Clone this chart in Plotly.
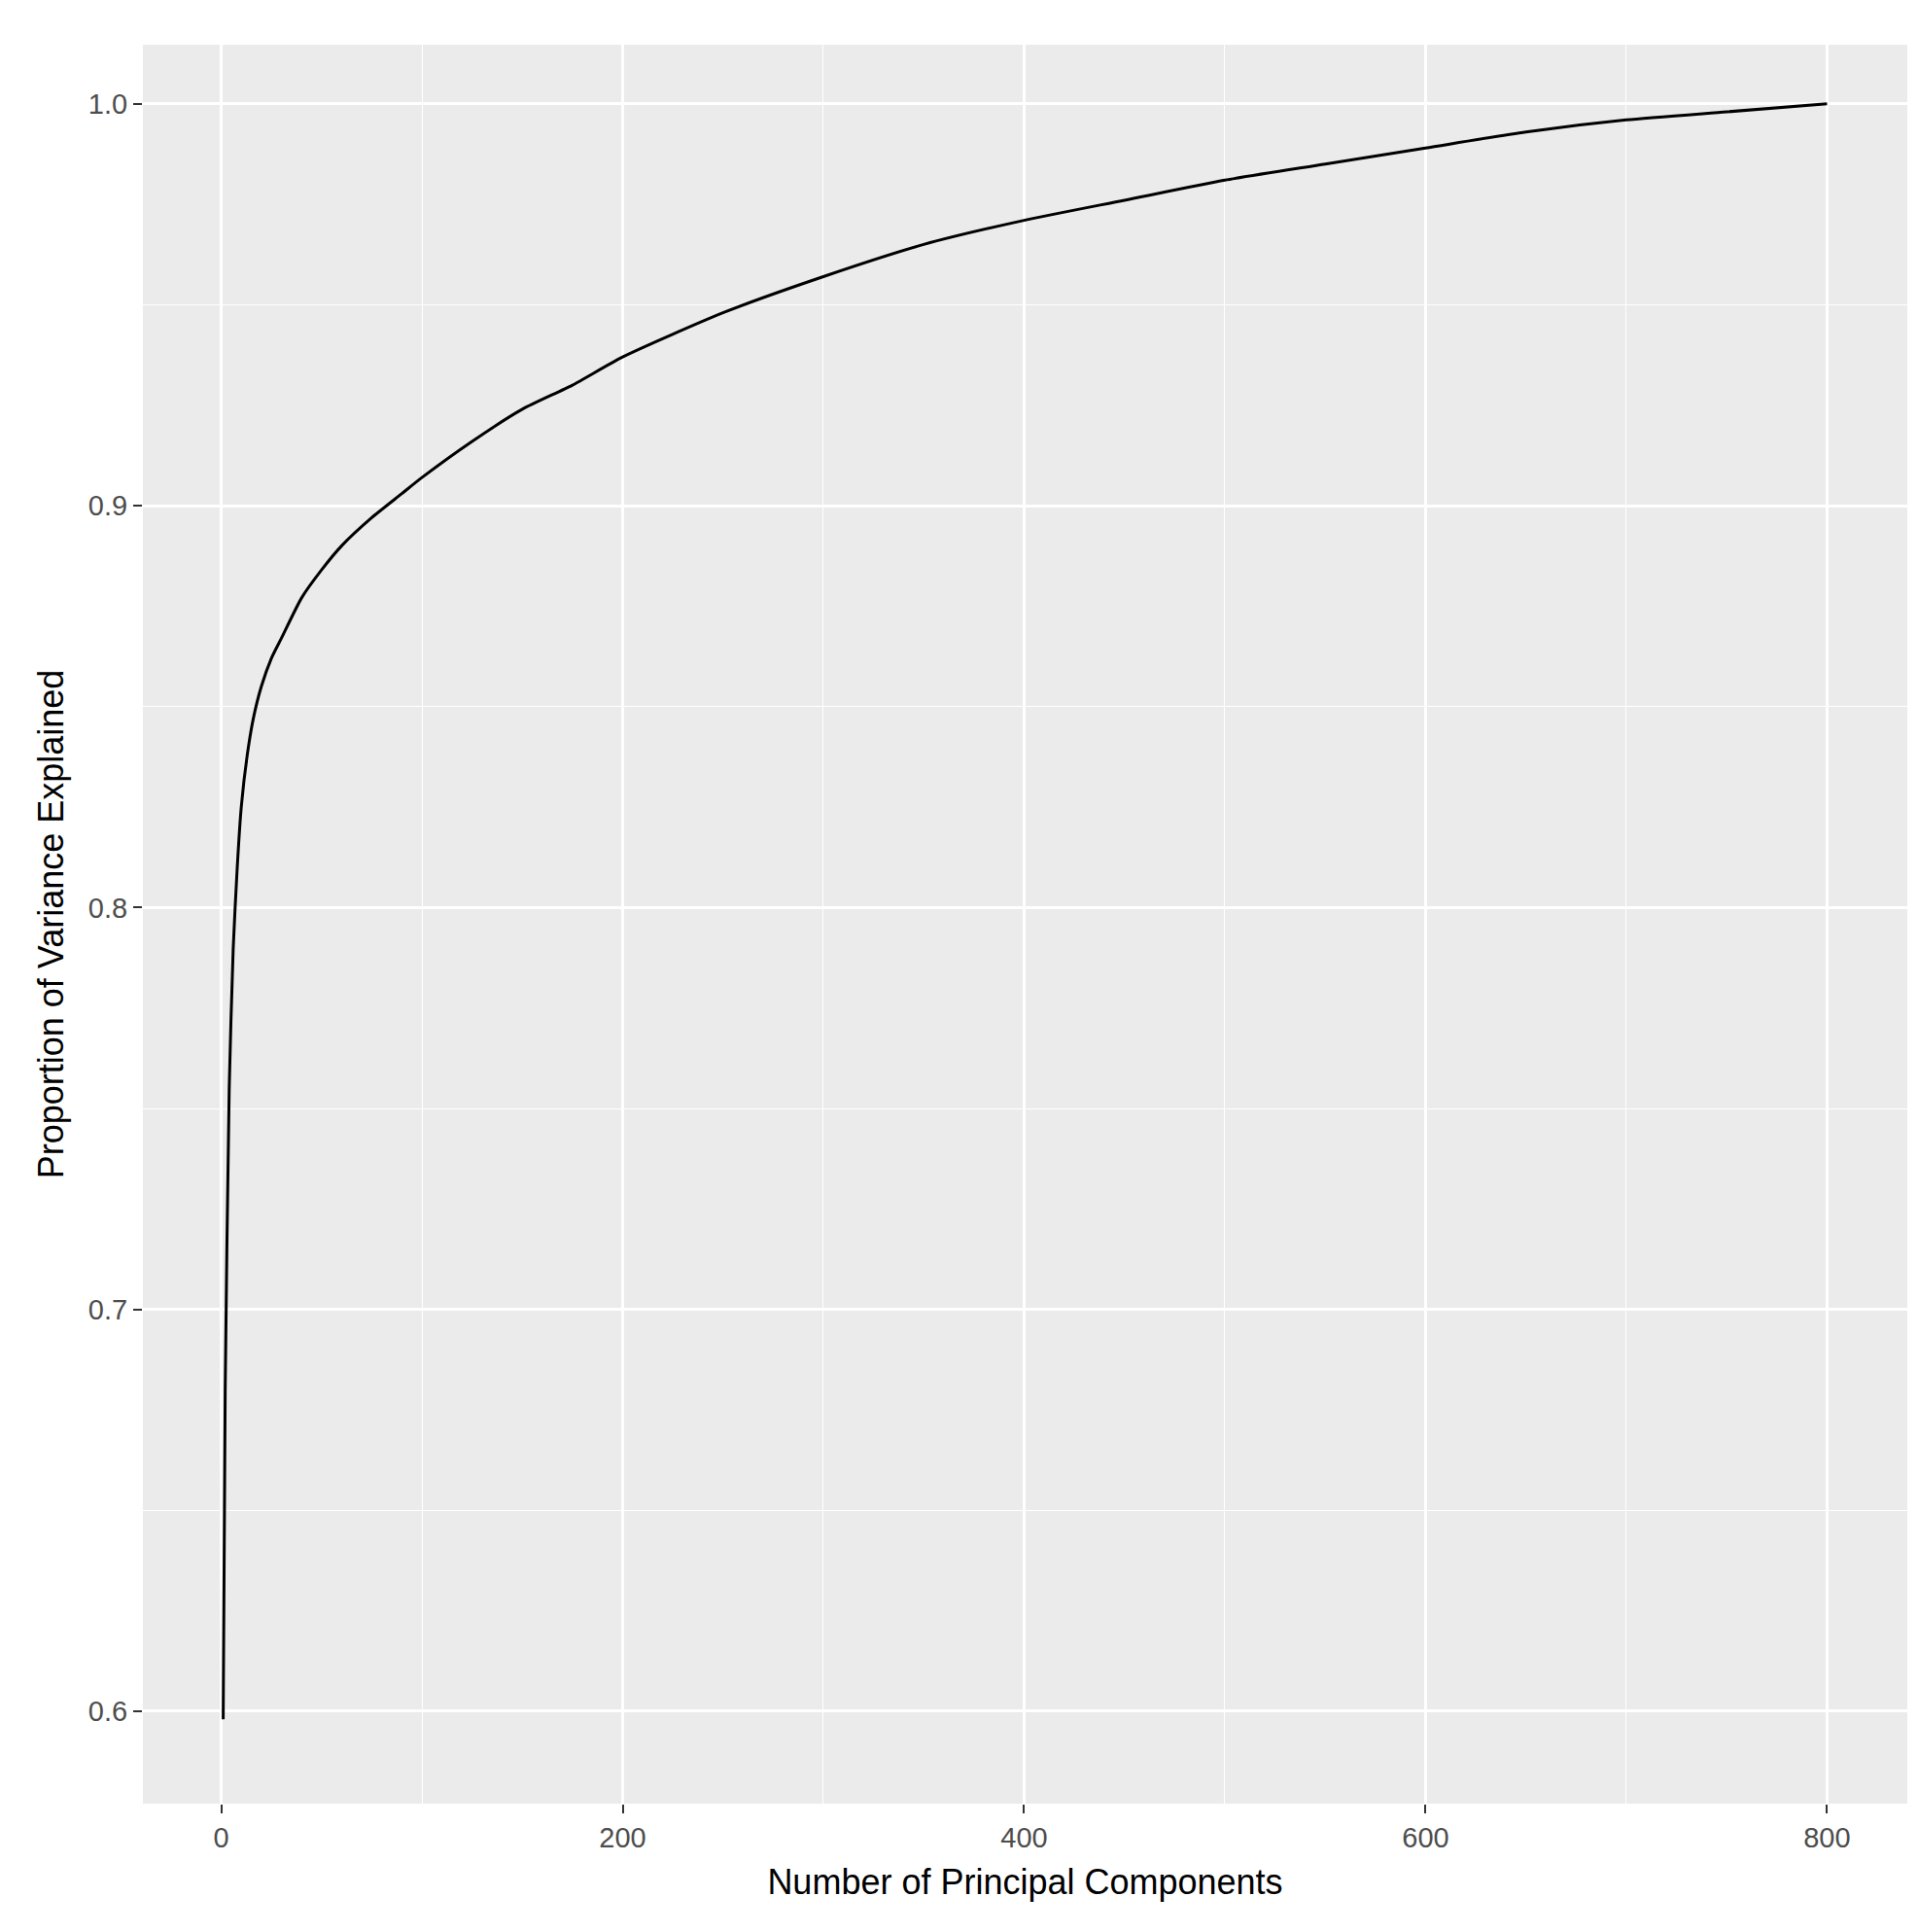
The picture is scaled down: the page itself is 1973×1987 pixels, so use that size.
import plotly.graph_objects as go

n_components = [1, 2, 4, 6, 8, 10, 13, 16, 20, 25, 30, 40, 50, 60, 75, 90, 100, 125, 150, 175, 200,
                250, 300, 350, 400, 450, 500, 550, 600, 650, 700, 750, 800]
cum_variance = [0.598, 0.68, 0.755, 0.79, 0.81, 0.825, 0.838, 0.847, 0.855, 0.862, 0.867, 0.877, 0.884,
                0.89, 0.897, 0.903, 0.907, 0.916, 0.924, 0.930, 0.937, 0.948, 0.957, 0.965, 0.971,
                0.976, 0.981, 0.985, 0.989, 0.993, 0.996, 0.998, 1.0]

fig = go.Figure(go.Scatter(x=n_components, y=cum_variance, mode="lines",
                           line=dict(color="black", width=3, shape="spline", smoothing=0.6)))
grid = "white"
fig.update_layout(
    width=1973, height=1987, plot_bgcolor="#EBEBEB", paper_bgcolor="white",
    margin=dict(l=139, r=19, t=38, b=140), showlegend=False,
    font=dict(family="Liberation Sans", size=29, color="#4D4D4D"),
    xaxis=dict(range=[-39, 840], tickvals=[0, 200, 400, 600, 800], gridcolor=grid, gridwidth=2.5,
               minor=dict(tickvals=[100, 300, 500, 700], gridcolor=grid, gridwidth=1.3, showgrid=True),
               zeroline=False, ticks="outside", ticklen=9, tickcolor="#333", tickwidth=2,
               title=dict(text="Number of Principal Components", font=dict(size=36, color="black"), standoff=18)),
    yaxis=dict(range=[0.577, 1.0147], tickvals=[0.6, 0.7, 0.8, 0.9, 1.0], tickformat=".1f",
               gridcolor=grid, gridwidth=2.5,
               minor=dict(tickvals=[0.65, 0.75, 0.85, 0.95], gridcolor=grid, gridwidth=1.3, showgrid=True),
               zeroline=False, ticks="outside", ticklen=9, tickcolor="#333", tickwidth=2,
               title=dict(text="Proportion of Variance Explained", font=dict(size=36, color="black"), standoff=14)),
)
fig.write_html("out.html")
